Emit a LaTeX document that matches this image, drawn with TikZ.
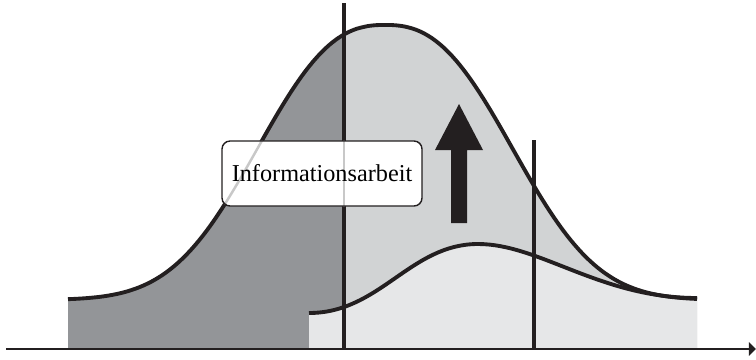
\documentclass[tikz,border=0pt]{standalone}
\usepackage{fontspec}
\setmainfont{Liberation Serif}
\usetikzlibrary{arrows.meta}
\definecolor{dunkel}{HTML}{939598}
\definecolor{mittel}{HTML}{D1D3D4}
\definecolor{hell}{HTML}{E6E7E8}
\definecolor{tinte}{HTML}{231F20}
\definecolor{geist}{HTML}{C8C8C8}

\begin{document}
\begin{tikzpicture}[x=0.02cm,y=-0.02cm,
    declare function={bigc(\t)=300-275*exp(-pow(abs(\t-385)/157+0.001,2.5));},
    curva/.style={draw=tinte,line width=2.2pt},
    vline/.style={draw=tinte,line width=2pt},
    eje/.style={draw=tinte,line width=1.1pt,-{Triangle[length=4pt,width=7.5pt]}},
    caja/.style={rectangle,rounded corners=0.16cm,minimum width=4cm,minimum height=1.3cm,inner sep=0pt},
    ghost/.style={draw=geist,line width=1.4pt}]
      \useasboundingbox (0,0) rectangle (756,359);
      % Flächen
      \fill[dunkel] (68,349) -- plot[domain=68:344,samples=80] (\x,{bigc(\x)}) -- (344,349) -- cycle;
      \fill[mittel] (344,349) -- plot[domain=344:697,samples=90] (\x,{bigc(\x)}) -- (697,349) -- cycle;
      \fill[hell] (309,349) -- (309,313) .. controls (380,313) and (410,244) .. (478,244)
          .. controls (540,244) and (600,298) .. (697,298) -- (697,349) -- cycle;
      % Kurven
      \draw[curva] plot[domain=68:697,samples=160] (\x,{bigc(\x)});
      \draw[curva] (309,313) .. controls (380,313) and (410,244) .. (478,244)
          .. controls (540,244) and (600,298) .. (697,298);
      % Senkrechte und Achse
      \coordinate (t1) at (344,3);
      \coordinate (b1) at (344,349);
      \coordinate (t2) at (534,140);
      \coordinate (b2) at (534,349);
      \coordinate (o) at (6,349);
      \coordinate (e) at (756,349);
      \draw[vline] (t1) -- (b1);
      \draw[vline] (t2) -- (b2);
      \draw[eje] (o) -- (e);
      % Pfeil nach oben
      \fill[tinte] (451,223) -- (451,150) -- (435,150) -- (459,104) -- (483,150) -- (467,150) -- (467,223) -- cycle;
      % Kasten
      \node[caja,fill=white] (info) at (322,173.5) {};
      \begin{scope}
        \clip[rounded corners=0.16cm] (info.south west) rectangle (info.north east);
        \draw[ghost] plot[domain=200:300,samples=30] (\x,{bigc(\x)});
        \draw[ghost] (t1) -- (b1);
      \end{scope}
      \node[caja,draw=tinte,line width=0.8pt,font=\fontsize{13.8}{16}\selectfont] (texto) at (info.center) {Informationsarbeit};
    \end{tikzpicture}
\end{document}
